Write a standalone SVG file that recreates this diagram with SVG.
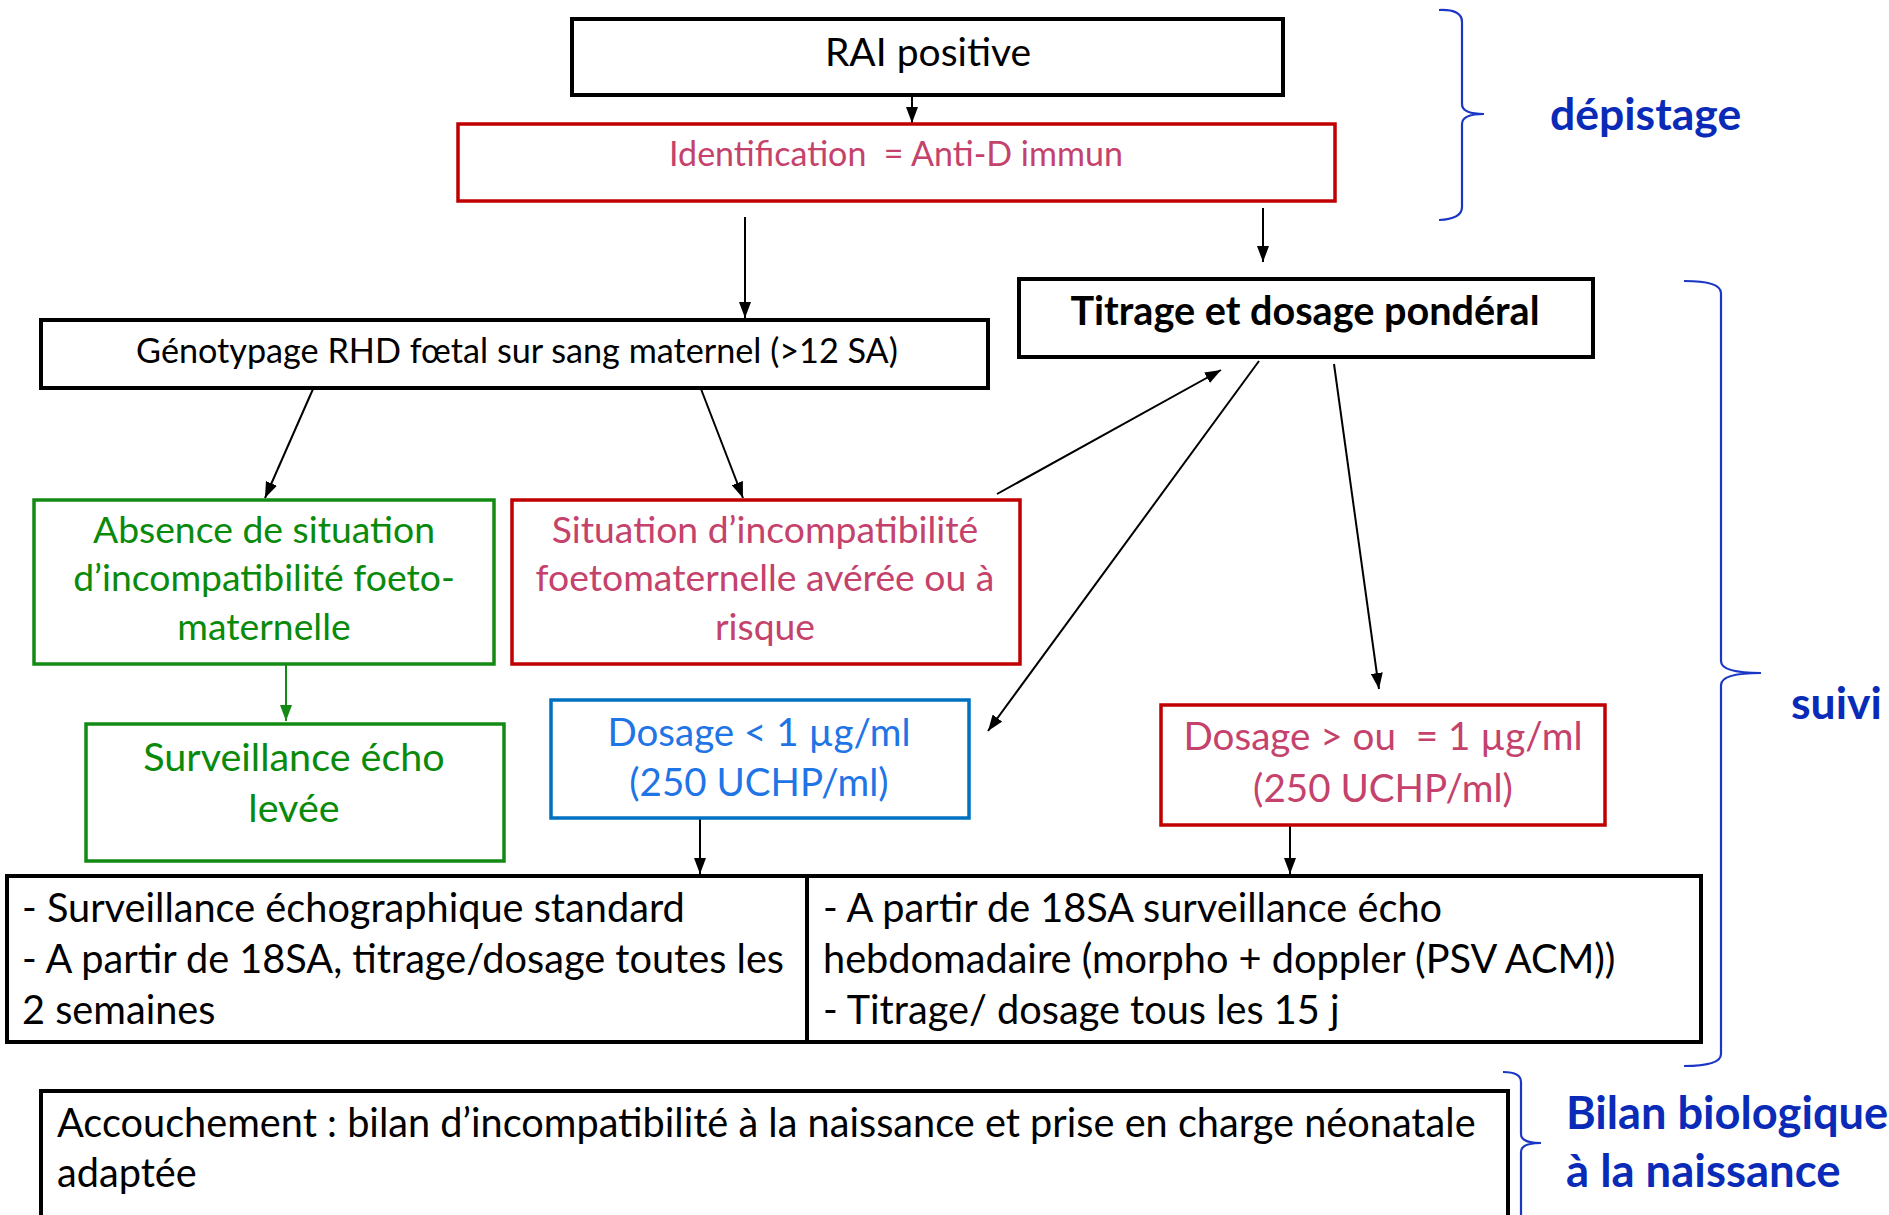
<svg xmlns="http://www.w3.org/2000/svg" width="1889" height="1215" viewBox="0 0 1889 1215">
<style>
text{font-family:Lato,"Open Sans","Liberation Sans",sans-serif}
.bk{fill:#fff;stroke:#000;stroke-width:4}
.rd{fill:#fff;stroke:#C00000;stroke-width:3.5}
.gr{fill:#fff;stroke:#138A13;stroke-width:3.5}
.bl{fill:#fff;stroke:#0070C0;stroke-width:3.5}
.tb{fill:#000;font-size:39.7px}
.tr{fill:#C4426B;font-size:37.3px}
.tg{fill:#0A8A0A;font-size:37.3px}
.tbl{fill:#1F74E6;font-size:38.5px}
.c{text-anchor:middle}
.br{fill:none;stroke:#1A36C4;stroke-width:2.2}
.lab{fill:#0A2AB8;font-weight:bold;font-size:44.8px}
.ln{stroke:#000;stroke-width:2;fill:none;marker-end:url(#ah)}
</style>
<defs>
<marker id="ah" viewBox="0 0 16 12" markerUnits="userSpaceOnUse" markerWidth="16" markerHeight="12" refX="16" refY="6" orient="auto"><path d="M0,0 L16,6 L0,12 z" fill="#000"/></marker>
<marker id="ahg" viewBox="0 0 16 12" markerUnits="userSpaceOnUse" markerWidth="16" markerHeight="12" refX="16" refY="6" orient="auto"><path d="M0,0 L16,6 L0,12 z" fill="#138A13"/></marker>
</defs>
<rect width="1889" height="1215" fill="#fff"/>

<g id="connectors">
<line class="ln" x1="912" y1="95" x2="912" y2="123"/>
<line class="ln" x1="745" y1="217" x2="745" y2="318"/>
<line class="ln" x1="1263" y1="208" x2="1263" y2="262"/>
<line class="ln" x1="313" y1="389" x2="265" y2="498"/>
<line class="ln" x1="701" y1="389" x2="743" y2="498"/>
<line class="ln" x1="997" y1="494" x2="1221" y2="370"/>
<line class="ln" x1="1259" y1="361" x2="988" y2="731"/>
<line class="ln" x1="1334" y1="364" x2="1379" y2="689"/>
<line x1="286" y1="664" x2="286" y2="721" stroke="#138A13" stroke-width="2" marker-end="url(#ahg)"/>
<line class="ln" x1="700" y1="818" x2="700" y2="874"/>
<line class="ln" x1="1290" y1="816" x2="1290" y2="874"/>
</g>

<g id="rai">
<rect class="bk" x="572" y="19" width="711" height="76"/>
<text class="tb c" x="928" y="66" style="font-size:39px">RAI positive</text>
</g>
<g id="identification">
<rect class="rd" x="458" y="124" width="877" height="77"/>
<text class="tr c" x="896" y="166" style="font-size:34px" xml:space="preserve">Identification  = Anti-D immun</text>
</g>
<g id="genotypage">
<rect class="bk" x="41" y="320" width="947" height="68"/>
<text class="tb c" x="517" y="363" style="font-size:34.2px">Génotypage RHD fœtal sur sang maternel (&gt;12 SA)</text>
</g>
<g id="titrage">
<rect class="bk" x="1019" y="279" width="574" height="78"/>
<text class="tb c" x="1305" y="325" style="font-size:39.6px;font-weight:bold">Titrage et dosage pondéral</text>
</g>
<g id="absence">
<rect class="gr" x="34" y="500" width="460" height="164"/>
<text class="tg c" x="264" y="543">Absence de situation</text>
<text class="tg c" x="264" y="591">d’incompatibilité foeto-</text>
<text class="tg c" x="264" y="640">maternelle</text>
</g>
<g id="situation">
<rect class="rd" x="512" y="500" width="508" height="164"/>
<text class="tr c" x="765" y="543">Situation d’incompatibilité</text>
<text class="tr c" x="765" y="591">foetomaternelle avérée ou à</text>
<text class="tr c" x="765" y="640">risque</text>
</g>
<g id="surveillance">
<rect class="gr" x="86" y="724" width="418" height="137"/>
<text class="tg c" x="294" y="771" style="font-size:39.5px">Surveillance écho</text>
<text class="tg c" x="294" y="822" style="font-size:39.5px">levée</text>
</g>
<g id="dosage-inf">
<rect class="bl" x="551" y="700" width="418" height="118"/>
<text class="tbl c" x="759" y="746">Dosage &lt; 1 µg/ml</text>
<text class="tbl c" x="759" y="796">(250 UCHP/ml)</text>
</g>
<g id="dosage-sup">
<rect class="rd" x="1161" y="705" width="444" height="120"/>
<text class="tr c" x="1383" y="750" style="font-size:38.6px" xml:space="preserve">Dosage &gt; ou  = 1 µg/ml</text>
<text class="tr c" x="1383" y="802" style="font-size:38.6px">(250 UCHP/ml)</text>
</g>
<g id="suivi-standard">
<rect class="bk" x="7" y="876" width="800" height="166"/>
<text class="tb" x="22" y="922">- Surveillance échographique standard</text>
<text class="tb" x="22" y="973">- A partir de 18SA, titrage/dosage toutes les</text>
<text class="tb" x="22" y="1024">2 semaines</text>
</g>
<g id="suivi-renforce">
<rect class="bk" x="807" y="876" width="894" height="166"/>
<text class="tb" x="823" y="922">- A partir de 18SA surveillance écho</text>
<text class="tb" x="823" y="973">hebdomadaire (morpho + doppler (PSV ACM))</text>
<text class="tb" x="823" y="1024">- Titrage/ dosage tous les 15 j</text>
</g>
<g id="accouchement">
<rect class="bk" x="41" y="1091" width="1467" height="160"/>
<text class="tb" x="57" y="1137">Accouchement : bilan d’incompatibilité à la naissance et prise en charge néonatale</text>
<text class="tb" x="57" y="1187">adaptée</text>
</g>
<g id="brace-depistage">
<path class="br" d="M1439,10 Q1462,9 1462,22 L1462,104 Q1462,114 1484,114 Q1462,114 1462,124 L1462,207 Q1462,219 1439,220"/>
<text class="lab" x="1550" y="130" style="font-size:44.5px">dépistage</text>
</g>
<g id="brace-suivi">
<path class="br" d="M1684,281 Q1721,281 1721,293 L1721,661 Q1721,673 1761,673 Q1721,673 1721,685 L1721,1054 Q1721,1066 1684,1066"/>
<text class="lab" x="1791" y="719" style="font-size:44.5px">suivi</text>
</g>
<g id="brace-bilan">
<path class="br" d="M1503,1072 Q1521,1072 1521,1082 L1521,1134 Q1521,1143 1541,1143 Q1521,1143 1521,1152 L1521,1225"/>
<text class="lab" x="1566" y="1129" style="font-size:45.2px">Bilan biologique</text>
<text class="lab" x="1566" y="1187" style="font-size:45.5px">à la naissance</text>
</g>
</svg>
